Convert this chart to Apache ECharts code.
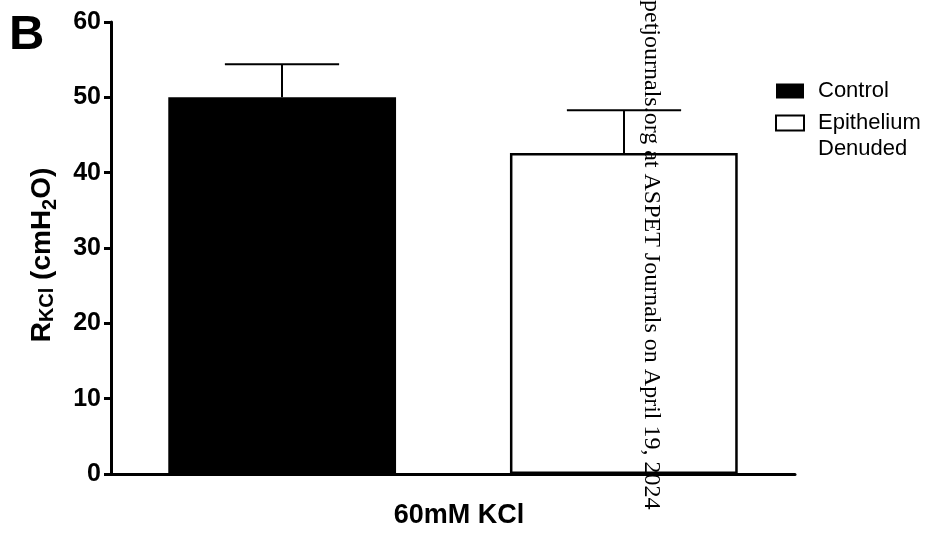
<!DOCTYPE html>
<html>
<head>
<meta charset="utf-8">
<script src="https://cdn.jsdelivr.net/npm/echarts@6/dist/echarts.min.js"></script>
<style>html,body{margin:0;padding:0;background:#fff}#c{width:932px;height:539px}</style>
</head>
<body>
<div id="c"></div>
<script>
const categories = ['60mM KCl'];
const seriesNames = ['Control', 'Epithelium Denuded'];
const controlMean = [50.0];
const controlUpper = [54.4];
const denudedMean = [42.6];
const denudedUpper = [48.3];
const yTicks = [0, 10, 20, 30, 40, 50, 60];

const chart = echarts.init(document.getElementById('c'));
const F = '"Liberation Sans", Arial, sans-serif';

const errData = [
  [0, controlMean[0], controlUpper[0], 0],
  [0, denudedMean[0], denudedUpper[0], 1]
];

chart.setOption({
  animation: false,
  backgroundColor: '#fff',
  grid: { left: 111, right: 137, top: 22, bottom: 65 },
  legend: {
    orient: 'vertical',
    left: 775,
    top: 78,
    padding: 0,
    itemWidth: 28,
    itemHeight: 15,
    itemGap: -20,
    icon: 'rect',
    textStyle: { fontFamily: F, fontSize: 22, color: '#000', lineHeight: 26, padding: [0, 0, 0, 9] },
    data: [
      { name: seriesNames[0] },
      { name: seriesNames[1] }
    ],
    formatter: n => n === seriesNames[1] ? '\nEpithelium\nDenuded' : n
  },
  xAxis: {
    type: 'category',
    data: categories,
    axisLine: { lineStyle: { color: '#000', width: 3, cap: 'round' } },
    axisTick: { show: false },
    axisLabel: { color: '#000', fontFamily: F, fontWeight: 'bold', fontSize: 27, margin: 28, padding: [0, 0, 0, 12] }
  },
  yAxis: {
    type: 'value',
    min: 0, max: 60, interval: 10,
    splitLine: { show: false },
    axisLine: { show: true, lineStyle: { color: '#000', width: 3 } },
    axisTick: { show: true, length: 7, lineStyle: { color: '#000', width: 3 } },
    axisLabel: {
      color: '#000', fontFamily: F, fontWeight: 'bold', fontSize: 25, margin: 10,
      formatter: v => yTicks.includes(v) ? String(v) : ''
    },
    name: '{r|R}{s|KCl}{r| (cmH}{s2|2}{r|O)}',
    nameLocation: 'middle',
    nameRotate: 90,
    nameGap: 55,
    nameTextStyle: {
      padding: [0, 14, 0, 0],
      rich: {
        r: { fontFamily: F, fontWeight: 'bold', fontSize: 28, color: '#000', lineHeight: 30, verticalAlign: 'bottom' },
        s: { fontFamily: F, fontWeight: 'bold', fontSize: 20, color: '#000', lineHeight: 20, verticalAlign: 'bottom', padding: [0, 0, -1, 0] },
        s2: { fontFamily: F, fontWeight: 'bold', fontSize: 20, color: '#000', lineHeight: 20, verticalAlign: 'bottom', padding: [0, 0, -4, 0] }
      }
    }
  },
  series: [
    {
      name: seriesNames[0], type: 'bar', data: controlMean,
      barWidth: '33.3%', barGap: '50%',
      itemStyle: { color: '#000' }
    },
    {
      name: seriesNames[1], type: 'bar', data: denudedMean,
      barWidth: '33.3%', barGap: '50%',
      itemStyle: { color: '#fff', borderColor: '#000', borderWidth: 2.5 }
    },
    {
      type: 'custom',
      data: errData,
      z: 5,
      renderItem: function (params, api) {
        const idx = api.value(3);
        const band = api.size([1, 0])[0];
        const top = api.coord([api.value(0), api.value(2)]);
        const base = api.coord([api.value(0), api.value(1)]);
        const cx = top[0] + (idx === 0 ? -1 : 1) * band * 0.25;
        const hw = band * 0.0835;
        const st = { stroke: '#000', lineWidth: 2 };
        return {
          type: 'group',
          children: [
            { type: 'line', shape: { x1: cx, y1: base[1], x2: cx, y2: top[1] }, style: st },
            { type: 'line', shape: { x1: cx - hw, y1: top[1], x2: cx + hw, y2: top[1] }, style: st }
          ]
        };
      }
    }
  ],
  graphic: [
    {
      type: 'text', left: 9, top: 11,
      style: { text: 'B', fontFamily: F, fontWeight: 'bold', fontSize: 49, fill: '#000' }
    },
    {
      type: 'text', x: 651, y: 0, rotation: -Math.PI / 2, z: 100,
      style: {
        text: 'petjournals.org at ASPET Journals on April 19, 2024',
        fontFamily: '"Liberation Serif", "Times New Roman", serif', fontSize: 24, fill: '#000',
        textAlign: 'left', textVerticalAlign: 'middle'
      }
    }
  ]
});
</script>
</body>
</html>
